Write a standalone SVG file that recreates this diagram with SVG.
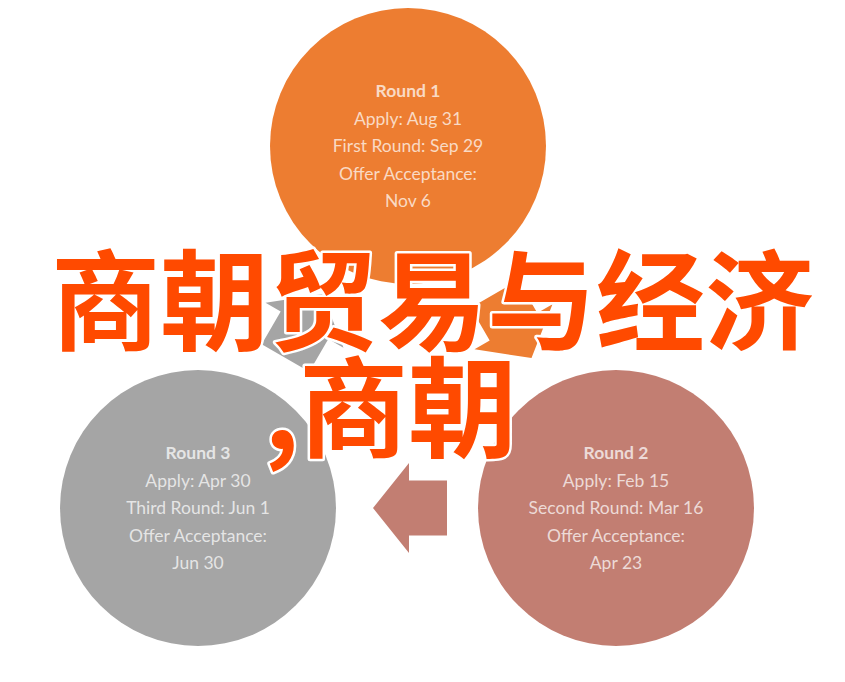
<svg xmlns="http://www.w3.org/2000/svg" xmlns:xlink="http://www.w3.org/1999/xlink" width="845" height="682" viewBox="0 0 845 682">
<style>
.lbl{font-family:Lato,"Open Sans","Liberation Sans",sans-serif;font-size:17.5px;fill:#ffffff;fill-opacity:0.72;text-anchor:middle}
.hd{font-weight:bold}
.title{font-family:"Noto Sans CJK SC","Noto Sans",sans-serif;font-weight:bold;font-size:109px;fill:#ff4a00;stroke:#ffffff;stroke-width:5;stroke-linejoin:round;paint-order:stroke}
</style>
<defs>
<path id="arrow" d="M-37,0 L-1,-45 L-1,-27.5 L37,-27.5 L37,27.5 L-1,27.5 L-1,45 Z"/>
</defs>
<rect width="845" height="682" fill="#ffffff"/>
<g id="connectors">
<use xlink:href="#arrow" href="#arrow" transform="translate(513,326) rotate(240)" fill="#ed7d31"/>
<use xlink:href="#arrow" href="#arrow" transform="translate(410,508)" fill="#c27e72"/>
<use xlink:href="#arrow" href="#arrow" transform="translate(304,326) rotate(120)" fill="#a5a5a5"/>
</g>
<g id="round1">
<circle cx="408" cy="146" r="138" fill="#ed7d31"/>
<text class="lbl hd" x="408" y="97">Round 1</text>
<text class="lbl" x="408" y="124.5">Apply: Aug 31</text>
<text class="lbl" x="408" y="152">First Round: Sep 29</text>
<text class="lbl" x="408" y="179.5">Offer Acceptance:</text>
<text class="lbl" x="408" y="207">Nov 6</text>
</g>
<g id="round2">
<circle cx="616" cy="508" r="138" fill="#c27e72"/>
<text class="lbl hd" x="616" y="459">Round 2</text>
<text class="lbl" x="616" y="486.5">Apply: Feb 15</text>
<text class="lbl" x="616" y="514">Second Round: Mar 16</text>
<text class="lbl" x="616" y="541.5">Offer Acceptance:</text>
<text class="lbl" x="616" y="569">Apr 23</text>
</g>
<g id="round3">
<circle cx="198" cy="508" r="138" fill="#a5a5a5"/>
<text class="lbl hd" x="198" y="459">Round 3</text>
<text class="lbl" x="198" y="486.5">Apply: Apr 30</text>
<text class="lbl" x="198" y="514">Third Round: Jun 1</text>
<text class="lbl" x="198" y="541.5">Offer Acceptance:</text>
<text class="lbl" x="198" y="569">Jun 30</text>
</g>
<g id="title">
<text class="title" x="51" y="342">商朝贸易与经济</text>
<text class="title" y="449"><tspan x="264">,</tspan><tspan x="299">商朝</tspan></text>
</g>
</svg>
